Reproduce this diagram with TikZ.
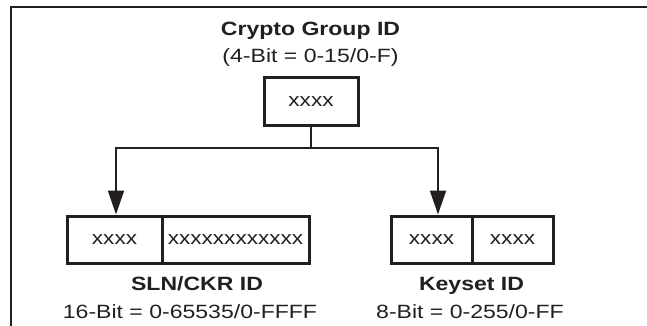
\documentclass[tikz,border=0pt]{standalone}
\usepackage{fontspec}
\setmainfont[FakeStretch=1.2]{Liberation Sans}
\usetikzlibrary{arrows.meta}
\definecolor{ink}{HTML}{231F20}
\begin{document}
\begin{tikzpicture}[x=0.5pt,y=-0.5pt,
  txt/.style={font=\fontsize{9.6pt}{11pt}\selectfont, text=ink, inner sep=0pt},
  ttl/.style={txt, font=\fontsize{9.6pt}{11pt}\selectfont\bfseries},
  cell/.style={draw=ink, line width=1.5pt, inner sep=0pt, minimum height=23.5pt,
    font=\fontsize{9.4pt}{11pt}\selectfont, text=ink},
  conn/.style={draw=ink, line width=1pt},
  arr/.style={conn, -{Triangle[width=8pt,length=12pt]}}]
\useasboundingbox (0,0) rectangle (647,326);
% partial frame
\draw[ink, line width=1pt] (11,326) -- (11,7) -- (647,7);
% top group
\node[ttl, anchor=base] (title) at (310.5,36) {Crypto Group ID};
\node[txt, anchor=base] (sub) at (310.5,63) {(4-Bit = 0-15/0-F)};
\node[cell, minimum width=47pt] (cg) at (311,101.5) {xxxx};
% bottom left
\node[cell, minimum width=47.5pt] (s1) at (114.5,239.5) {xxxx};
\node[cell, minimum width=73.5pt] (s2) at (235.5,239.5) {xxxxxxxxxxxx};
\node[ttl, anchor=base] (slnlabel) at (197,290.5) {SLN/CKR ID};
\node[txt, anchor=base] (slnbits) at (190,318) {16-Bit = 0-65535/0-FFFF};
% bottom right
\node[cell, minimum width=40.5pt] (k1) at (431.5,239.5) {xxxx};
\node[cell, minimum width=40.5pt] (k2) at (512.5,239.5) {xxxx};
\node[ttl, anchor=base] (kslabel) at (471.5,290.5) {Keyset ID};
\node[txt, anchor=base] (ksbits) at (470,318) {8-Bit = 0-255/0-FF};
% connectors
\coordinate (j) at (311,148);
\coordinate (la) at (116,148);
\coordinate (ra) at (438,148);
\draw[conn] (cg.south) -- (j);
\draw[arr] (j) -- (la) -- (la |- s1.north);
\draw[arr] (j) -- (ra) -- (ra |- k1.north);
\end{tikzpicture}
\end{document}
